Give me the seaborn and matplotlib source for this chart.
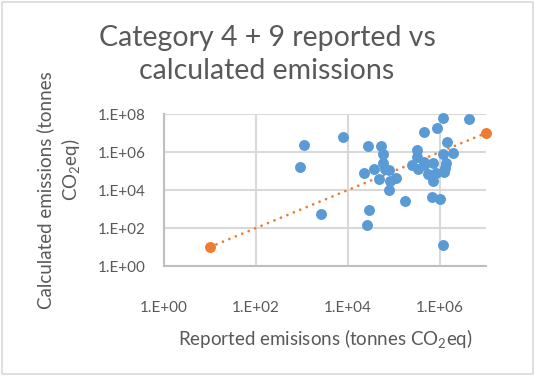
import numpy as np
import pandas as pd
import matplotlib
matplotlib.use("Agg")
import matplotlib.pyplot as plt
import seaborn as sns
from matplotlib.ticker import FixedLocator, FuncFormatter, NullLocator
from matplotlib.patches import Rectangle

# reported vs calculated emissions (tonnes CO2eq)
reported = [1.1e3, 9.1e2, 7.8e3, 2.6e3, 2.7e4, 5.2e4, 5.9e4, 2.2e4, 3.7e4, 5.9e4,
            6.3e4, 7.9e4, 4.7e4, 8.1e4, 1.1e5, 7.9e4, 2.8e4, 2.6e4, 1.7e5, 4.4e5,
            1.15e6, 8.7e5, 4.2e6, 1.4e6, 3.2e5, 1.15e6, 1.9e6, 3.2e5, 2.5e5, 4.4e5,
            7.1e5, 1.35e6, 3.4e5, 5.6e5, 8.1e5, 1.2e6, 7.1e5, 6.6e5, 1.0e6, 1.15e6,
            1.3e6, 4.5e5]
calculated = [2.3e6, 1.6e5, 5.9e6, 5.2e2, 2.1e6, 2.1e6, 7.6e5, 7.8e4, 1.2e5, 2.5e5,
              1.3e5, 1.1e5, 3.8e4, 3.0e4, 4.5e4, 9.5e3, 8.9e2, 1.5e2, 2.5e3, 1.1e7,
              5.9e7, 1.8e7, 5.2e7, 3.4e6, 1.2e6, 7.8e5, 8.5e5, 5.2e5, 2.1e5, 3.1e5,
              2.5e5, 2.5e5, 1.3e5, 6.9e4, 7.6e4, 8.5e4, 3.0e4, 4.5e3, 3.4e3, 13,
              1.4e5, 2.0e5]

# 1:1 reference line endpoints
ref_x = [10, 1e7]
ref_y = [10, 1e7]

xticks = [1e0, 1e2, 1e4, 1e6]
yticks = [1e0, 1e2, 1e4, 1e6, 1e8]

blue = "#5B9BD5"
orange = "#ED7D31"
grey_text = "#595959"
grid_col = "#d9d9d9"

sns.set_style("white")
plt.rcParams["font.family"] = ["Lato", "DejaVu Sans"]
plt.rcParams["mathtext.fontset"] = "custom"
plt.rcParams["mathtext.rm"] = "Lato"
plt.rcParams["mathtext.default"] = "rm"

df = pd.DataFrame({"reported": reported, "calculated": calculated})
ref = pd.DataFrame({"reported": ref_x, "calculated": ref_y})

fig = plt.figure(figsize=(5.35, 3.76), dpi=100)
ax = fig.add_axes([164 / 535, 1 - 266 / 376, (486 - 164) / 535, (266 - 114) / 376])
ax.set_xscale("log")
ax.set_yscale("log")

ax.plot(ref["reported"], ref["calculated"], linestyle=(0, (0.01, 2.5)), color=orange,
        lw=2.0, dash_capstyle="round", zorder=3)
sns.scatterplot(data=df, x="reported", y="calculated", ax=ax, color=blue,
                s=62, linewidth=0, zorder=4, clip_on=False)
sns.scatterplot(data=ref, x="reported", y="calculated", ax=ax, color=orange,
                s=62, linewidth=0, zorder=5, clip_on=False)

ax.set_xlim(1, 1e7)
ax.set_ylim(1, 1e8)
fmt = FuncFormatter(lambda v, p: "1.E+%02d" % int(round(np.log10(v))))
ax.xaxis.set_major_locator(FixedLocator(xticks))
ax.yaxis.set_major_locator(FixedLocator(yticks))
ax.xaxis.set_minor_locator(NullLocator())
ax.yaxis.set_minor_locator(NullLocator())
ax.xaxis.set_major_formatter(fmt)
ax.yaxis.set_major_formatter(fmt)
ax.tick_params(axis="both", length=0, labelsize=11, labelcolor=grey_text)
ax.tick_params(axis="x", pad=25)
ax.tick_params(axis="y", pad=13)
ax.grid(True, color=grid_col, lw=1.5)
ax.set_xlabel("")
ax.set_ylabel("")
for s in ["top", "right"]:
    ax.spines[s].set_visible(False)
for s in ["left", "bottom"]:
    ax.spines[s].set_color("#bfbfbf")
    ax.spines[s].set_linewidth(1.5)

fig.text(267 / 535, 1 - 38 / 376, "Category 4 + 9 reported vs", ha="center",
         va="center", fontsize=20.5, color=grey_text)
fig.text(267 / 535, 1 - 71 / 376, "calculated emissions", ha="center",
         va="center", fontsize=20.5, color=grey_text)
fig.text(325 / 535, 1 - 339 / 376, "Reported emisisons (tonnes CO$_2$eq)",
         ha="center", va="center", fontsize=13.5, color=grey_text)
fig.text(45 / 535, 1 - 190 / 376, "Calculated emissions (tonnes", rotation=90,
         ha="center", va="center", fontsize=13.5, color=grey_text)
fig.text(70 / 535, 1 - 170 / 376, "CO$_2$eq)", rotation=90,
         ha="center", va="center", fontsize=13.5, color=grey_text)

fig.patches.append(Rectangle((2 / 535, 2 / 376), 531 / 535, 372 / 376,
                             transform=fig.transFigure, fill=False,
                             edgecolor=grid_col, lw=1.2))

fig.savefig("out.png", dpi=100)
